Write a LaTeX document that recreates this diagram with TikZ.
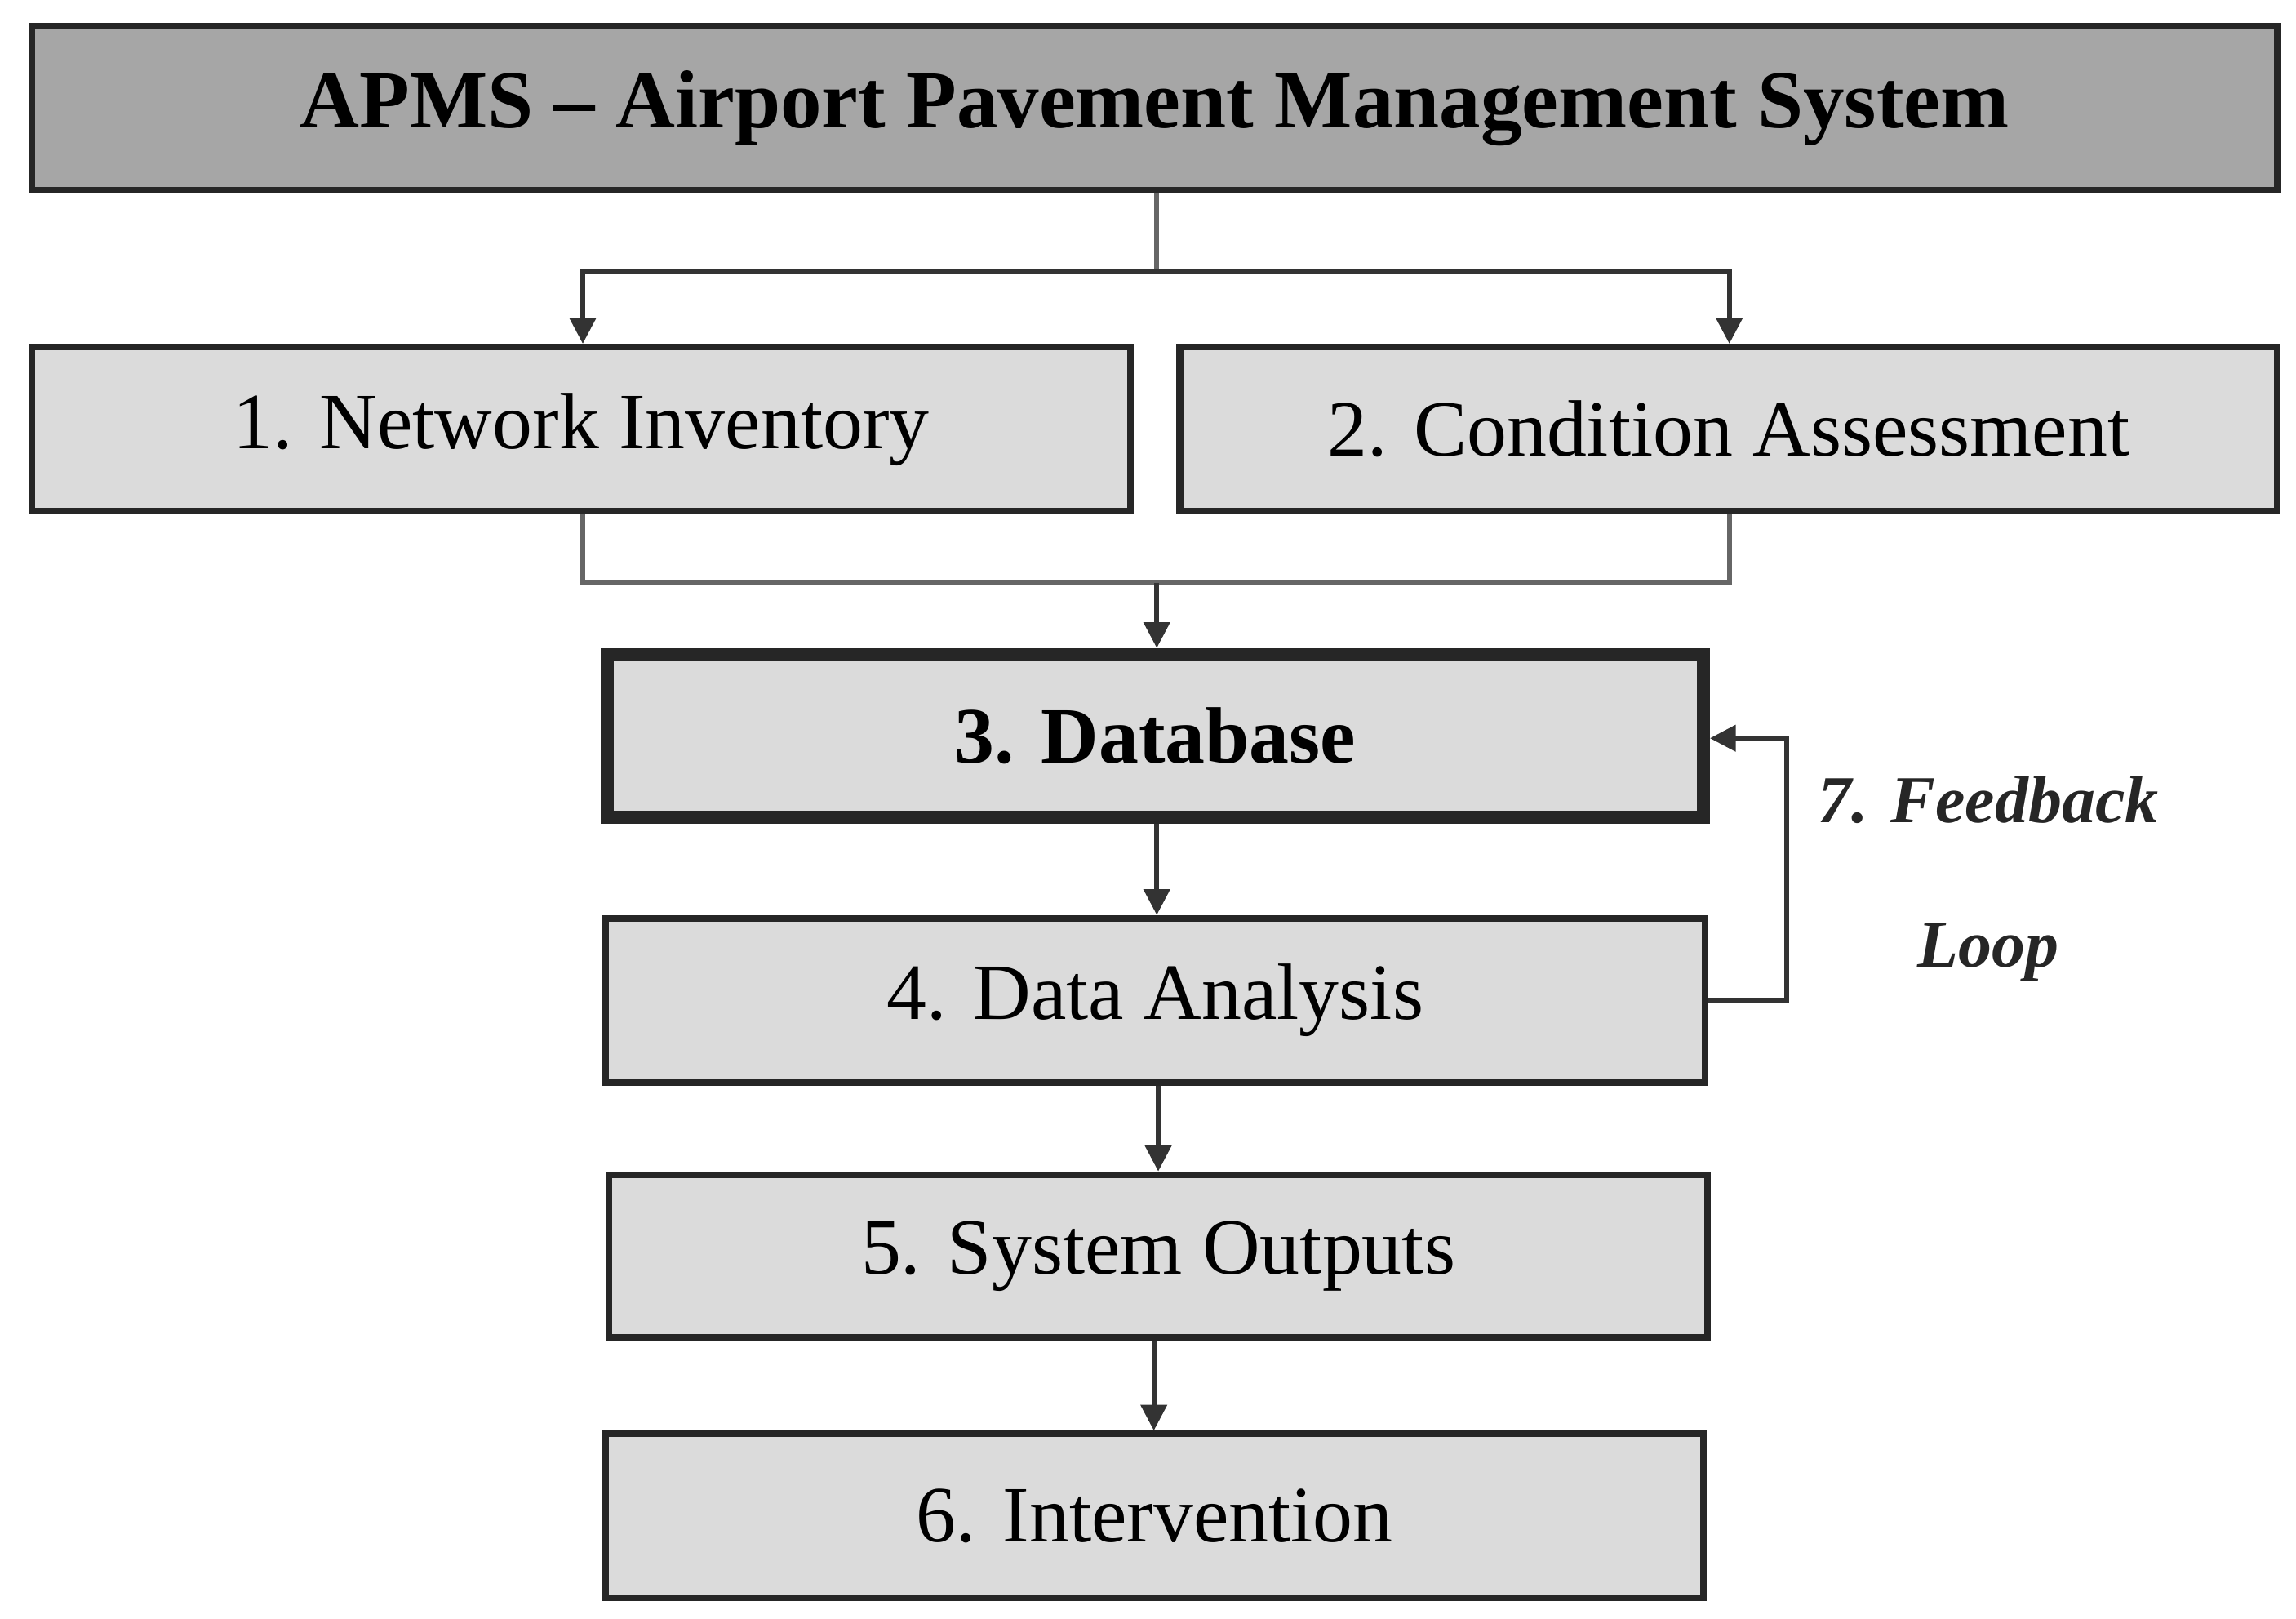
\documentclass[tikz,border=0pt]{standalone}
\usepackage{fontspec}
\setmainfont{Liberation Serif}
\usetikzlibrary{arrows.meta}
\begin{document}
\begin{tikzpicture}[x=0.01cm,y=-0.01cm,
  box/.style={draw=black!85,line width=1.3pt,fill=black!14,inner sep=0pt,font=\fontsize{15.5}{18}\selectfont},
  con/.style={draw=black!60,line width=0.9pt},
  arr/.style={con,-{Triangle[length=5pt,width=5pt]},draw=black!80}]
\useasboundingbox (0,0) rectangle (1568,1105);
\node[box,fill=black!35,minimum width=15.33cm,minimum height=1.12cm,font=\fontsize{16}{19}\selectfont\bfseries] (top) at (788.5,74) {APMS – Airport Pavement Management System};
\node[box,minimum width=7.5cm,minimum height=1.12cm] (n1) at (397,293) {1. Network Inventory};
\node[box,minimum width=7.49cm,minimum height=1.12cm] (n2) at (1180.5,293) {2. Condition Assessment};
\node[box,line width=2.6pt,minimum width=7.48cm,minimum height=1.11cm,font=\fontsize{15.5}{18}\selectfont\bfseries] (n3) at (789,502.5) {3. Database};
\node[box,minimum width=7.5cm,minimum height=1.12cm] (n4) at (789,683) {4. Data Analysis};
\node[box,minimum width=7.5cm,minimum height=1.11cm] (n5) at (791,857.5) {5. System Outputs};
\node[box,minimum width=7.49cm,minimum height=1.12cm] (n6) at (788.5,1035) {6. Intervention};
\node[font=\fontsize{13}{28}\selectfont\bfseries\itshape,align=center,text=black!85] (fb) at (1358,600) {7. Feedback\\Loop};
\coordinate (s) at (790,185);
\coordinate (m) at (790,398);
\draw[con] (top.south -| s) -- (s);
\draw[arr] (s) -| (n1.north -| 398,0);
\draw[arr] (s) -| (n2.north -| 1181,0);
\draw[con] (n1.south -| 398,0) |- (m);
\draw[con] (n2.south -| 1181,0) |- (m);
\draw[arr] (m) -- (n3.north -| m);
\draw[arr] (n3.south -| 790,0) -- (n4.north -| 790,0);
\draw[arr] (n4.south -| 791,0) -- (n5.north -| 791,0);
\draw[arr] (n5.south -| 788,0) -- (n6.north -| 788,0);
\draw[arr] (n4.east) -- (1220,683) |- (n3.east |- 0,504);
\end{tikzpicture}
\end{document}
